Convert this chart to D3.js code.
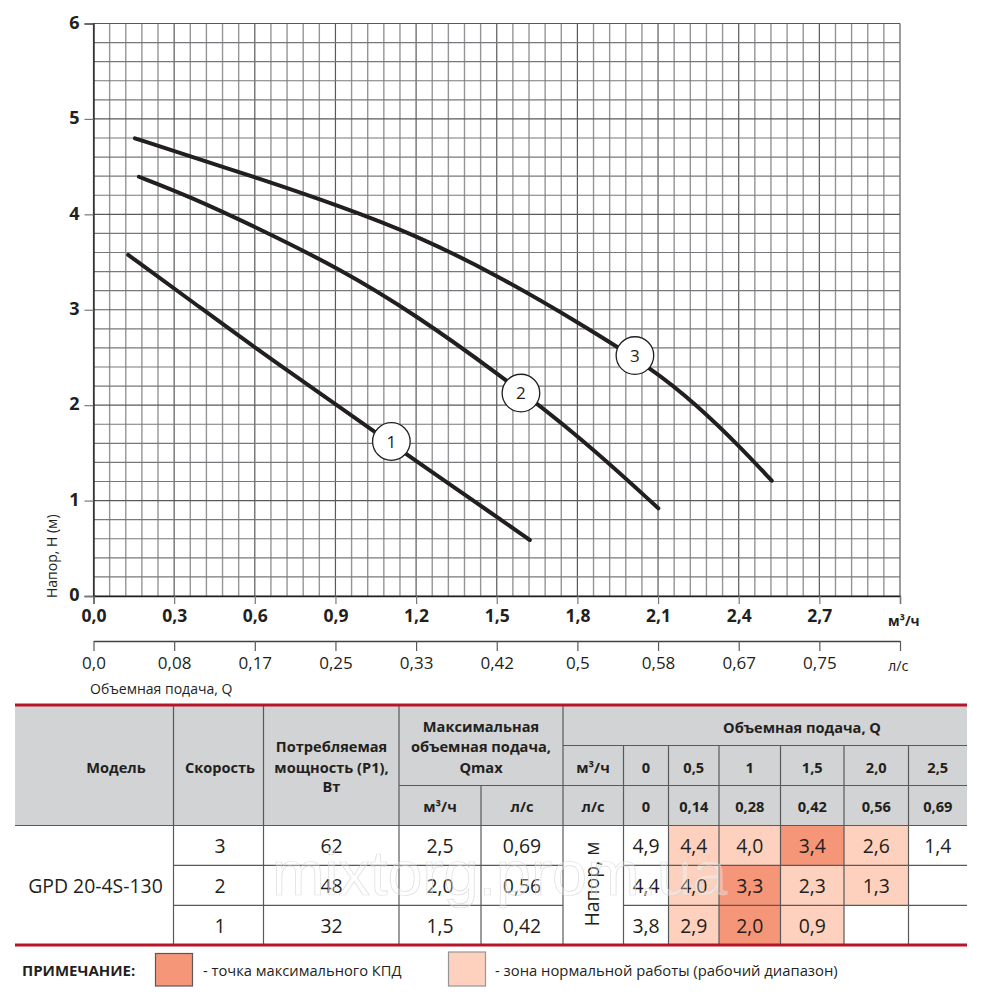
<!DOCTYPE html>
<html>
<head>
<meta charset="utf-8">
<script src="https://cdn.jsdelivr.net/npm/d3@7"></script>
<style>
  html, body { margin: 0; background: #fff; }
  text { font-family: "Open Sans", "Noto Sans", sans-serif; fill: #231f20; }
</style>
</head>
<body>
<svg id="chart" width="1000" height="1000"></svg>
<script>
// curves, [Q m3/h, H m]
const speed1 = [[0.129,3.574],[0.359,3.102],[0.601,2.60],[0.880,2.05],[1.047,1.72],[1.171,1.47],[1.500,0.83],[1.623,0.587]];
const speed2 = [[0.169,4.394],[0.359,4.185],[0.601,3.87],[0.917,3.43],[1.202,2.94],[1.500,2.34],[1.810,1.669],[2.101,0.919]];
const speed3 = [[0.154,4.797],[0.421,4.551],[0.601,4.39],[0.917,4.087],[1.202,3.78],[1.500,3.364],[1.810,2.858],[2.082,2.376],[2.244,2.002],[2.399,1.582],[2.523,1.208]];
const curveNames = ["1", "2", "3"];
const markerAt = [[1.108,1.619],[1.590,2.127],[2.014,2.52]];

// axis ticks
const headTicks = [0, 1, 2, 3, 4, 5, 6];
const flowTicks = [0, 0.3, 0.6, 0.9, 1.2, 1.5, 1.8, 2.1, 2.4, 2.7, 3.0];
const flowLabels = ["0,0","0,3","0,6","0,9","1,2","1,5","1,8","2,1","2,4","2,7",""];
const litreLabels = ["0,0","0,08","0,17","0,25","0,33","0,42","0,5","0,58","0,67","0,75",""];

// table
const speeds = ["3", "2", "1"];
const powers = ["62", "48", "32"];
const qmaxM3 = ["2,5", "2,0", "1,5"];
const qmaxLs = ["0,69", "0,56", "0,42"];
const flowM3 = ["0", "0,5", "1", "1,5", "2,0", "2,5"];
const flowLs = ["0", "0,14", "0,28", "0,42", "0,56", "0,69"];
const headRows = [
  ["4,9","4,4","4,0","3,4","2,6","1,4"],
  ["4,4","4,0","3,3","2,3","1,3",""],
  ["3,8","2,9","2,0","0,9","",""]
];
// 0 = no fill, 1 = working range, 2 = best efficiency
const zoneRows = [
  [0,1,1,2,1,0],
  [0,1,2,1,1,0],
  [0,1,2,1,0,0]
];

const dark = "#231f20", lineGrey = "#58595b", red = "#b8152b", headerGrey = "#d1d3d4";
const zoneColor = ["none", "#fdd1bd", "#f69679"];

const svg = d3.select("#chart");

// scales
const x = d3.scaleLinear().domain([0, 3]).range([93.5, 900]);
const y = d3.scaleLinear().domain([0, 6]).range([596, 23.5]);

// grid
const grid = svg.append("g");
d3.range(0, 51).forEach(i => {
  const major = i % 5 === 0;
  grid.append("line")
    .attr("x1", x(i * 0.06)).attr("x2", x(i * 0.06))
    .attr("y1", y(6)).attr("y2", y(0))
    .attr("stroke", major ? "#58595b" : "#939598")
    .attr("stroke-width", major ? 1.2 : 1.4);
});
d3.range(0, 31).forEach(i => {
  const major = i % 5 === 0;
  grid.append("line")
    .attr("x1", x(0)).attr("x2", x(3))
    .attr("y1", y(i * 0.2)).attr("y2", y(i * 0.2))
    .attr("stroke", major ? "#58595b" : "#77787b")
    .attr("stroke-width", major ? 1.2 : 1.1);
});

// y axis
const yAxis = svg.append("g")
  .attr("transform", `translate(${x(0)},0)`)
  .call(d3.axisLeft(y).tickValues(headTicks).tickSize(9).tickPadding(5).tickFormat(d => d));
yAxis.select(".domain").attr("stroke", dark).attr("stroke-width", 1.3);
yAxis.selectAll(".tick line").attr("stroke", "#77787b").attr("stroke-width", 1.2);
yAxis.selectAll("text").attr("font-size", 18).attr("font-weight", 700).attr("font-family", null).attr("dy", "0.26em");

// flow axis m3/h
const axis1 = svg.append("g")
  .attr("transform", `translate(0,${y(0)})`)
  .call(d3.axisBottom(x).tickValues(flowTicks).tickSize(8).tickPadding(6).tickFormat((d, i) => flowLabels[i]));
axis1.select(".domain").attr("stroke", dark).attr("stroke-width", 1.3);
axis1.selectAll(".tick line").attr("stroke", "#77787b").attr("stroke-width", 1.2);
axis1.selectAll("text").attr("font-size", 17.5).attr("font-weight", 700).attr("font-family", null);

// flow axis l/s
const axis2 = svg.append("g")
  .attr("transform", "translate(0,641)")
  .call(d3.axisBottom(x).tickValues(flowTicks).tickSize(10).tickSizeOuter(0).tickPadding(6).tickFormat((d, i) => litreLabels[i]));
axis2.select(".domain").attr("stroke", "#414042").attr("stroke-width", 1.3);
axis2.selectAll(".tick line").attr("stroke", "#58595b").attr("stroke-width", 1.2);
axis2.selectAll("text").attr("font-size", 17).attr("font-family", null);

// axis captions
svg.append("text").attr("x", 888).attr("y", 626).attr("font-size", 13.8).attr("font-weight", 700).text("м³/ч");
svg.append("text").attr("x", 888).attr("y", 671).attr("font-size", 14.5).text("л/с");
svg.append("text").attr("x", 90).attr("y", 693.5).attr("font-size", 14).text("Объемная подача, Q");
svg.append("text")
  .attr("transform", "translate(57,598) rotate(-90)")
  .attr("font-size", 14)
  .text("Напор, Н (м)");

// pump curves
const line = d3.line().x(d => x(d[0])).y(d => y(d[1])).curve(d3.curveBasis);
svg.append("g").selectAll("path")
  .data([speed1, speed2, speed3])
  .join("path")
  .attr("d", line)
  .attr("fill", "none")
  .attr("stroke", dark)
  .attr("stroke-width", 4)
  .attr("stroke-linecap", "round");

// numbered markers
const markers = svg.append("g").selectAll("g")
  .data(markerAt)
  .join("g")
  .attr("transform", d => `translate(${x(d[0])},${y(d[1])})`);
markers.append("circle").attr("r", 18.8).attr("fill", "#fff").attr("stroke", dark).attr("stroke-width", 1.3);
markers.append("text")
  .attr("text-anchor", "middle").attr("dy", "0.36em").attr("font-size", 17)
  .text((d, i) => curveNames[i]);

// table layout
const edges = [173.5, 263.5, 399, 481, 563, 623.5, 668.5, 719, 780.5, 844, 908.5, 967];
const tableLeft = 15;
const rowY = d3.scalePoint().domain(speeds).range([825.5, 905.3]);
const rowH = 39.9;
const flowCol = d3.scaleOrdinal().domain(d3.range(6)).range(edges.slice(5, 11));
const flowColEnd = d3.scaleOrdinal().domain(d3.range(6)).range(edges.slice(6, 12));
const flowMid = i => (flowCol(i) + flowColEnd(i)) / 2;

const table = svg.append("g");

// header background
table.append("rect").attr("x", tableLeft).attr("y", 705).attr("width", 967 - tableLeft).attr("height", 120.5).attr("fill", headerGrey);

// zone cells
headRows.forEach((row, r) => {
  table.append("g").selectAll("rect")
    .data(row)
    .join("rect")
    .attr("x", (d, i) => flowCol(i))
    .attr("y", rowY(speeds[r]))
    .attr("width", (d, i) => flowColEnd(i) - flowCol(i))
    .attr("height", rowH)
    .attr("fill", (d, i) => zoneColor[zoneRows[r][i]]);
});

// table rules
function rule(x1, y1, x2, y2) {
  table.append("line").attr("x1", x1).attr("y1", y1).attr("x2", x2).attr("y2", y2)
    .attr("stroke", lineGrey).attr("stroke-width", 1.2);
}
[173.5, 263.5, 399, 563].forEach(e => rule(e, 705, e, 945));
rule(481, 785.5, 481, 945);
edges.slice(5, 11).forEach(e => rule(e, 745.5, e, 945));
rule(563, 745.5, 967, 745.5);
rule(399, 785.5, 967, 785.5);
rule(tableLeft, 825.5, 967, 825.5);
rule(173.5, 865.3, 563, 865.3);
rule(173.5, 905.3, 563, 905.3);
rule(623.5, 865.3, 967, 865.3);
rule(623.5, 905.3, 967, 905.3);

// bold header text
function head(tx, ty, str, size) {
  table.append("text").attr("x", tx).attr("y", ty).attr("text-anchor", "middle")
    .attr("font-size", size || 14.6).attr("font-weight", 700).text(str);
}
head(116, 772.5, "Модель");
head(220, 772.5, "Скорость");
head(331.5, 752, "Потребляемая");
head(331.5, 772.5, "мощность (Р1),");
head(331.5, 792, "Вт");
head(481, 732, "Максимальная");
head(481, 752, "объемная подача,");
head(481, 772.5, "Qmax");
head(440, 812, "м³/ч");
head(522, 812, "л/с");
head(802, 733, "Объемная подача, Q");
head(593, 772.5, "м³/ч");
head(593, 812, "л/с");
flowM3.forEach((t, i) => head(flowMid(i), 772.5, t));
flowLs.forEach((t, i) => head(flowMid(i), 812, t));

// body text
function cell(tx, ty, str, size) {
  table.append("text").attr("x", tx).attr("y", ty).attr("text-anchor", "middle")
    .attr("font-size", size || 19.4).attr("fill", dark).text(str);
}
speeds.forEach((s, r) => {
  const base = rowY(s) + 27.5;
  cell(220, base, s);
  cell(331.5, base, powers[r]);
  cell(440, base, qmaxM3[r]);
  cell(522, base, qmaxLs[r]);
  headRows[r].forEach((v, i) => { if (v) cell(flowMid(i), base, v); });
});
cell(95.5, 892.5, "GPD 20-4S-130", 19.4);
table.append("text")
  .attr("transform", "translate(598.5,884) rotate(-90)")
  .attr("text-anchor", "middle").attr("font-size", 19.4).text("Напор, м");

// red bands
[705, 945].forEach(ry => {
  table.append("line").attr("x1", tableLeft).attr("x2", 967).attr("y1", ry).attr("y2", ry)
    .attr("stroke", red).attr("stroke-width", 3);
});

// legend note
svg.append("text").attr("x", 22).attr("y", 976).attr("font-size", 15).attr("font-weight", 700).text("ПРИМЕЧАНИЕ:");
svg.append("rect").attr("x", 155.5).attr("y", 953.5).attr("width", 37).attr("height", 32.5)
  .attr("fill", zoneColor[2]).attr("stroke", lineGrey).attr("stroke-width", 1.2);
svg.append("text").attr("x", 203).attr("y", 976).attr("font-size", 14.7).text("- точка максимального КПД");
svg.append("rect").attr("x", 448.5).attr("y", 952).attr("width", 37).attr("height", 34)
  .attr("fill", zoneColor[1]).attr("stroke", "#939598").attr("stroke-width", 1.2);
svg.append("text").attr("x", 495).attr("y", 976).attr("font-size", 14.8).text("- зона нормальной работы (рабочий диапазон)");

// watermark
svg.append("text")
  .attr("x", 272).attr("y", 895)
  .attr("font-size", 63)
  .style("font-family", "'Liberation Sans', sans-serif")
  .style("fill", "#fff").style("fill-opacity", 0.3)
  .attr("stroke", "#d4d5d7").attr("stroke-width", 0.7).attr("stroke-opacity", 0.8)
  .text("mixtorg.prom.ua");
</script>
</body>
</html>
